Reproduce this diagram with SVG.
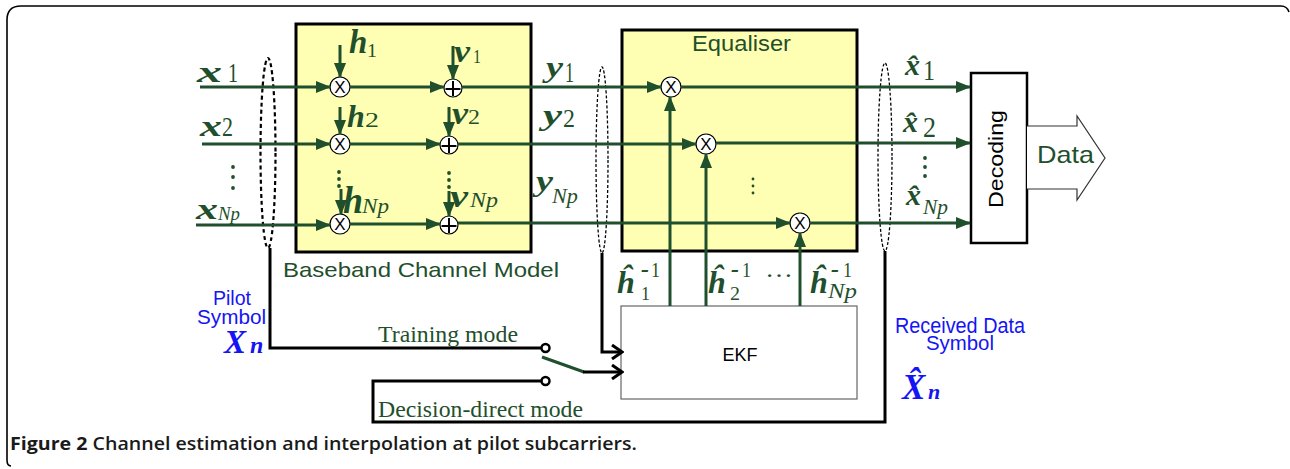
<svg xmlns="http://www.w3.org/2000/svg" width="1290" height="469" viewBox="0 0 1290 469">
<style>
.g{stroke:#1f4f2d;stroke-width:3;fill:none}
.k{stroke:#000;stroke-width:3;fill:none}
.m{font-family:"Liberation Serif",serif;font-weight:bold;font-style:italic;fill:#1f4f2d}
.r{font-family:"Liberation Serif",serif;font-weight:normal;font-style:normal;fill:#1f4f2d}
.ri{font-family:"Liberation Serif",serif;font-weight:normal;font-style:italic;fill:#1f4f2d}
.s{font-family:"Liberation Sans",Arial,sans-serif}
.op{fill:#fff;stroke:#000;stroke-width:1.2}
.opt{font-family:"Liberation Sans",Arial,sans-serif;font-size:17px;text-anchor:middle;fill:#000}
.dot{fill:#1f4f2d}
.blue{fill:#1414f5}
</style>
<defs>
<marker id="ag" markerUnits="userSpaceOnUse" markerWidth="15" markerHeight="12" refX="14" refY="6" orient="auto">
<path d="M0,0 L15,6 L0,12 Z" fill="#1f4f2d"/>
</marker>
<marker id="ak" markerUnits="userSpaceOnUse" markerWidth="14" markerHeight="16" refX="12" refY="8" orient="auto">
<path d="M2,1 L12,8 L2,15" fill="none" stroke="#000" stroke-width="3"/>
</marker>
</defs>

<!-- outer frame -->
<path d="M11,466 Q7,466 7,460 L7,20 Q7,6 21,6 L1281,6 Q1287,6 1289,12" fill="none" stroke="#000" stroke-width="1.6"/>

<g id="baseband">
<rect x="296" y="24" width="235" height="228" fill="#ffffb3" stroke="#000" stroke-width="3"/>
<text x="283" y="277" class="s" font-size="21" fill="#1f4f2d" textLength="276" lengthAdjust="spacingAndGlyphs">Baseband Channel Model</text>
</g>

<g id="equaliser">
<rect x="622" y="30" width="235" height="221" fill="#ffffb3" stroke="#000" stroke-width="3"/>
<text x="692" y="51" class="s" font-size="22" fill="#1f4f2d" textLength="99" lengthAdjust="spacingAndGlyphs">Equaliser</text>
<g fill="#1f4f2d"><circle cx="753" cy="179" r="1.4"/><circle cx="753" cy="186" r="1.4"/><circle cx="753" cy="193" r="1.4"/></g>
</g>

<g id="ekf">
<rect x="621" y="306" width="236" height="93" fill="#fff" stroke="#666" stroke-width="1.2"/>
<text x="740" y="361" class="s" font-size="18" fill="#000" text-anchor="middle">EKF</text>
</g>

<g id="decoding">
<rect x="971" y="73" width="56" height="170" fill="#fff" stroke="#000" stroke-width="2.5"/>
<text x="0" y="0" transform="translate(1003,159) rotate(-90)" class="s" font-size="20.5" fill="#000" text-anchor="middle" textLength="98" lengthAdjust="spacingAndGlyphs">Decoding</text>
</g>

<g id="data">
<path d="M1027,126 L1077,126 L1077,116 L1105,158 L1077,200 L1077,189 L1027,189" fill="#fff" stroke="#333" stroke-width="1.2"/>
<text x="1037" y="163" class="s" font-size="24" fill="#1f4f2d" textLength="57" lengthAdjust="spacingAndGlyphs">Data</text>
</g>

<!-- operators -->
<g id="mul-b1"><circle cx="340" cy="87" r="10" class="op"/><text x="340" y="93" class="opt">X</text></g>
<g id="mul-b2"><circle cx="340" cy="144" r="10" class="op"/><text x="340" y="150" class="opt">X</text></g>
<g id="mul-bN"><circle cx="340" cy="224" r="10" class="op"/><text x="340" y="230" class="opt">X</text></g>
<g id="add-1"><circle cx="453" cy="88" r="9" class="op"/><path d="M453,81 V96 M445.5,89 H460.5" stroke="#000" stroke-width="2"/></g>
<g id="add-2"><circle cx="449" cy="145" r="9" class="op"/><path d="M449,138 V153 M441.5,146 H456.5" stroke="#000" stroke-width="2"/></g>
<g id="add-N"><circle cx="449" cy="225" r="9" class="op"/><path d="M449,218 V233 M441.5,226 H456.5" stroke="#000" stroke-width="2"/></g>
<g id="mul-e1"><circle cx="671" cy="87" r="10" class="op"/><text x="671" y="93" class="opt">X</text></g>
<g id="mul-e2"><circle cx="706" cy="144" r="10" class="op"/><text x="706" y="150" class="opt">X</text></g>
<g id="mul-eN"><circle cx="800" cy="223" r="10" class="op"/><text x="800" y="229" class="opt">X</text></g>

<!-- selection ellipses -->
<g id="sel-pilot"><ellipse cx="268" cy="153" rx="7.5" ry="95" fill="none" stroke="#000" stroke-width="2.2" stroke-dasharray="4,3"/></g>
<g id="sel-y"><ellipse cx="602" cy="160" rx="6" ry="93" fill="none" stroke="#000" stroke-width="1.3" stroke-dasharray="3,2"/></g>
<g id="sel-x"><ellipse cx="885" cy="157" rx="7" ry="94" fill="none" stroke="#000" stroke-width="1.3" stroke-dasharray="3,2"/></g>

<g id="connectors">
<line x1="200" y1="87" x2="330" y2="87" class="g" marker-end="url(#ag)"/>
<line x1="350" y1="87" x2="444" y2="87" class="g" marker-end="url(#ag)"/>
<line x1="462" y1="87" x2="661" y2="87" class="g" marker-end="url(#ag)"/>
<line x1="681" y1="87" x2="970" y2="87" class="g" marker-end="url(#ag)"/>
<line x1="202" y1="144" x2="330" y2="144" class="g" marker-end="url(#ag)"/>
<line x1="350" y1="144" x2="440" y2="144" class="g" marker-end="url(#ag)"/>
<line x1="458" y1="144" x2="696" y2="144" class="g" marker-end="url(#ag)"/>
<line x1="716" y1="143" x2="970" y2="143" class="g" marker-end="url(#ag)"/>
<line x1="196" y1="225" x2="330" y2="225" class="g" marker-end="url(#ag)"/>
<line x1="350" y1="224" x2="440" y2="224" class="g" marker-end="url(#ag)"/>
<line x1="458" y1="223" x2="790" y2="223" class="g" marker-end="url(#ag)"/>
<line x1="810" y1="223" x2="970" y2="223" class="g" marker-end="url(#ag)"/>
<line x1="340" y1="45" x2="340" y2="77" class="g" marker-end="url(#ag)"/>
<line x1="453" y1="46" x2="453" y2="79" class="g" marker-end="url(#ag)"/>
<line x1="340" y1="107" x2="340" y2="134" class="g" marker-end="url(#ag)"/>
<line x1="449" y1="107" x2="449" y2="136" class="g" marker-end="url(#ag)"/>
<line x1="341" y1="189" x2="341" y2="214" class="g" marker-end="url(#ag)"/>
<line x1="449" y1="191" x2="449" y2="216" class="g" marker-end="url(#ag)"/>
<line x1="670" y1="306" x2="670" y2="97" class="g" marker-end="url(#ag)"/>
<line x1="706" y1="306" x2="706" y2="154" class="g" marker-end="url(#ag)"/>
<line x1="800" y1="306" x2="800" y2="233" class="g" marker-end="url(#ag)"/>
<polyline points="270,248 270,348 541,348" class="k"/>
<circle cx="545.5" cy="348" r="4" fill="#fff" stroke="#000" stroke-width="2.5"/>
<polyline points="885,251 885,422 373,422 373,381 541,381" class="k"/>
<circle cx="545.5" cy="381" r="4" fill="#fff" stroke="#000" stroke-width="2.5"/>
<line x1="542" y1="357" x2="584" y2="372" stroke="#1f4f2d" stroke-width="3"/>
<line x1="583" y1="372" x2="622" y2="372" class="k" marker-end="url(#ak)"/>
<polyline points="602,253 602,352 622,352" class="k" marker-end="url(#ak)"/>
</g>

<!-- labels -->
<g id="labels-x">
<text class="m"><tspan x="197" y="82" font-size="30" textLength="25" lengthAdjust="spacingAndGlyphs">x</tspan><tspan x="228" y="82" class="r" font-size="28" textLength="10" lengthAdjust="spacingAndGlyphs">1</tspan></text>
<text class="m"><tspan x="200" y="136" font-size="30" textLength="22" lengthAdjust="spacingAndGlyphs">x</tspan><tspan x="222" y="136" class="r" font-size="28" textLength="11" lengthAdjust="spacingAndGlyphs">2</tspan></text>
<circle cx="233" cy="167" r="1.9" class="dot"/><circle cx="233" cy="177" r="1.9" class="dot"/><circle cx="233" cy="188" r="1.9" class="dot"/>
<text class="m"><tspan x="196" y="219" font-size="30" textLength="22" lengthAdjust="spacingAndGlyphs">x</tspan><tspan x="218" y="220" class="ri" font-size="18" textLength="22" lengthAdjust="spacingAndGlyphs">Np</tspan></text>
</g>
<g id="labels-h">
<text class="m"><tspan x="349" y="53" font-size="33">h</tspan><tspan x="367" y="56.5" class="r" font-size="18" textLength="10" lengthAdjust="spacingAndGlyphs">1</tspan></text>
<text class="m"><tspan x="454" y="62" font-size="31" textLength="16" lengthAdjust="spacingAndGlyphs">v</tspan><tspan x="473" y="62.5" class="r" font-size="19" textLength="8" lengthAdjust="spacingAndGlyphs">1</tspan></text>
<text class="m"><tspan x="347" y="126.5" font-size="32">h</tspan><tspan x="365" y="126.5" class="r" font-size="20" textLength="14" lengthAdjust="spacingAndGlyphs">2</tspan></text>
<text class="m"><tspan x="452" y="123.5" font-size="31" textLength="16" lengthAdjust="spacingAndGlyphs">v</tspan><tspan x="468" y="123.5" class="r" font-size="20" textLength="12" lengthAdjust="spacingAndGlyphs">2</tspan></text>
<circle cx="339" cy="172" r="1.9" class="dot"/><circle cx="339" cy="179" r="1.9" class="dot"/><circle cx="339" cy="186" r="1.9" class="dot"/>
<text class="m"><tspan x="343" y="213" font-size="37" textLength="20" lengthAdjust="spacingAndGlyphs">h</tspan><tspan x="362" y="213" class="ri" font-size="20" textLength="27" lengthAdjust="spacingAndGlyphs">Np</tspan></text>
<circle cx="449" cy="173" r="1.9" class="dot"/><circle cx="449" cy="180" r="1.9" class="dot"/><circle cx="449" cy="187" r="1.9" class="dot"/>
<text class="m"><tspan x="450" y="207" font-size="32" textLength="18" lengthAdjust="spacingAndGlyphs">v</tspan><tspan x="470" y="207" class="ri" font-size="20" textLength="28" lengthAdjust="spacingAndGlyphs">Np</tspan></text>
</g>
<g id="labels-y">
<text class="m"><tspan x="546" y="77" font-size="30" textLength="17" lengthAdjust="spacingAndGlyphs">y</tspan><tspan x="565" y="82" class="r" font-size="29" textLength="9" lengthAdjust="spacingAndGlyphs">1</tspan></text>
<text class="m"><tspan x="543" y="125" font-size="30" textLength="19" lengthAdjust="spacingAndGlyphs">y</tspan><tspan x="563" y="127" class="r" font-size="25" textLength="12" lengthAdjust="spacingAndGlyphs">2</tspan></text>
<text class="m"><tspan x="536" y="191" font-size="30" textLength="17" lengthAdjust="spacingAndGlyphs">y</tspan><tspan x="552" y="203" class="ri" font-size="22" textLength="26" lengthAdjust="spacingAndGlyphs">Np</tspan></text>
</g>
<g id="labels-xhat">
<text class="m"><tspan x="905" y="75" font-size="30">x&#x302;</tspan><tspan x="923" y="80" class="r" font-size="30" textLength="12" lengthAdjust="spacingAndGlyphs">1</tspan></text>
<text class="m"><tspan x="903" y="132" font-size="30">x&#x302;</tspan><tspan x="923" y="137" class="r" font-size="30" textLength="13" lengthAdjust="spacingAndGlyphs">2</tspan></text>
<circle cx="925" cy="158" r="1.9" class="dot"/><circle cx="925" cy="167" r="1.9" class="dot"/><circle cx="925" cy="176" r="1.9" class="dot"/>
<text class="m"><tspan x="906" y="205" font-size="30">x&#x302;</tspan><tspan x="923" y="214" class="ri" font-size="20" textLength="25" lengthAdjust="spacingAndGlyphs">Np</tspan></text>
</g>
<g id="labels-hinv">
<text class="m"><tspan x="617" y="293" font-size="32">&#x125;</tspan><tspan x="641" y="277" font-size="24">-</tspan><tspan x="651" y="277" class="r" font-size="22" textLength="9" lengthAdjust="spacingAndGlyphs">1</tspan></text>
<text x="641" y="300" class="r" font-size="19" textLength="9" lengthAdjust="spacingAndGlyphs">1</text>
<text class="m"><tspan x="708" y="293" font-size="32">&#x125;</tspan><tspan x="731" y="277" font-size="24">-</tspan><tspan x="742" y="277" class="r" font-size="22" textLength="9" lengthAdjust="spacingAndGlyphs">1</tspan></text>
<text x="730" y="300" class="r" font-size="19" textLength="10" lengthAdjust="spacingAndGlyphs">2</text>
<text x="765" y="277" class="r" font-size="24" textLength="28" lengthAdjust="spacingAndGlyphs">…</text>
<text class="m"><tspan x="810" y="293" font-size="32">&#x125;</tspan><tspan x="831" y="277" font-size="24">-</tspan><tspan x="843" y="277" class="r" font-size="22" textLength="9" lengthAdjust="spacingAndGlyphs">1</tspan></text>
<text x="828" y="298" class="ri" font-size="20" textLength="29" lengthAdjust="spacingAndGlyphs">Np</text>
</g>
<g id="labels-mode">
<text x="378" y="342" class="r" font-size="22.5" textLength="140" lengthAdjust="spacingAndGlyphs">Training mode</text>
<text x="378" y="417" class="r" font-size="22.5" textLength="205" lengthAdjust="spacingAndGlyphs">Decision-direct mode</text>
</g>
<g id="pilot-symbol">
<text x="213" y="305" class="s blue" font-size="21" textLength="38" lengthAdjust="spacingAndGlyphs">Pilot</text>
<text x="197" y="324" class="s blue" font-size="21" textLength="69" lengthAdjust="spacingAndGlyphs">Symbol</text>
<text font-family="Liberation Serif,serif" font-weight="bold" font-style="italic" class="blue"><tspan x="224" y="353" font-size="33">X</tspan><tspan x="250" y="353" font-size="24">n</tspan></text>
</g>
<g id="received-symbol">
<text x="895" y="333" class="s blue" font-size="22" textLength="130" lengthAdjust="spacingAndGlyphs">Received Data</text>
<text x="926" y="350" class="s blue" font-size="21" textLength="68" lengthAdjust="spacingAndGlyphs">Symbol</text>
<text font-family="Liberation Serif,serif" font-weight="bold" font-style="italic" class="blue"><tspan x="902" y="399" font-size="35">X&#x302;</tspan><tspan x="928" y="399" font-size="22">n</tspan></text>
</g>
<g id="caption">
<text x="10" y="450" font-family="Open Sans,sans-serif" font-size="17.5" fill="#1a1a1a" textLength="627" lengthAdjust="spacingAndGlyphs"><tspan font-weight="bold">Figure 2</tspan><tspan font-weight="600"> Channel estimation and interpolation at pilot subcarriers.</tspan></text>
</g>
</svg>
